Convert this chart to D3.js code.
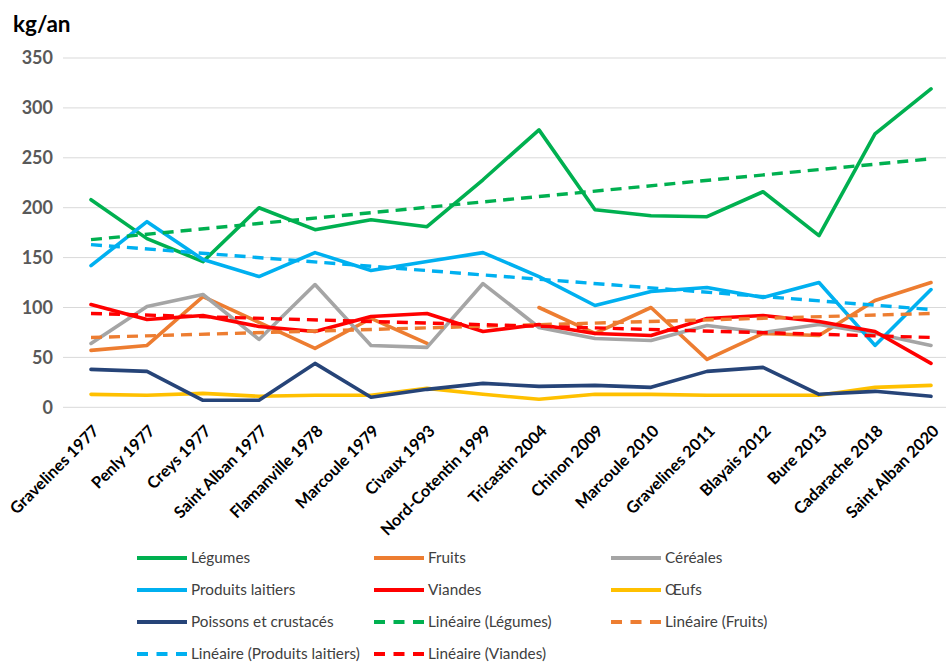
<!DOCTYPE html>
<html><head><meta charset="utf-8">
<script src="https://cdn.jsdelivr.net/npm/d3@7"></script>
<style>
html,body{margin:0;padding:0;background:#fff;}
svg{display:block;font-family:Lato,"Open Sans",sans-serif;}
</style></head>
<body>
<svg id="chart" width="946" height="662"></svg>
<script>
const categories = ["Gravelines 1977","Penly 1977","Creys 1977","Saint Alban 1977","Flamanville 1978","Marcoule 1979","Civaux 1993","Nord-Cotentin 1999","Tricastin 2004","Chinon 2009","Marcoule 2010","Gravelines 2011","Blayais 2012","Bure 2013","Cadarache 2018","Saint Alban 2020"];
const legumes   = [208,169,146,200,178,188,181,228,278,198,192,191,216,172,274,319];
const fruits    = [57,62,111,85,59,89,64,null,100,74,100,48,74,72,107,125];
const cereales  = [64,101,113,68,123,62,60,124,80,69,67,82,75,83,74,62];
const laitiers  = [142,186,148,131,155,137,146,155,131,102,116,120,110,125,62,118];
const viandes   = [103,88,92,81,76,91,94,76,83,74,72,89,92,86,76,44];
const oeufs     = [13,12,14,11,12,12,19,13,8,13,13,12,12,12,20,22];
const poissons  = [38,36,7,7,44,10,18,24,21,22,20,36,40,13,16,11];
// trend lines (linear), values at first and last category
const trendLegumes  = [168,249];
const trendFruits   = [70,94];
const trendLaitiers = [163,98];
const trendViandes  = [94,70];
const yTicks = [0,50,100,150,200,250,300,350];

const svg = d3.select("#chart");
const x = d3.scalePoint().domain(categories).range([63,959]).padding(0.5);
const y = d3.scaleLinear().domain([0,350]).range([407.3,58]);

// gridlines
svg.append("g").selectAll("line").data(yTicks).join("line")
  .attr("x1",63).attr("x2",946)
  .attr("y1",d=>y(d)).attr("y2",d=>y(d))
  .attr("stroke","#d9d9d9").attr("stroke-width",1);

// y labels
const yAxis = d3.axisLeft(y).tickValues(yTicks).tickSize(0).tickPadding(0);
const ya = svg.append("g").attr("transform","translate(53,0)").call(yAxis);
ya.select(".domain").remove();
ya.selectAll("text").attr("font-family","Lato").attr("font-weight","bold")
  .attr("font-size",18).attr("fill","#595959");

// title
svg.append("text").attr("x",13).attr("y",32).text("kg/an")
  .attr("font-weight","bold").attr("font-size",22.5).attr("fill","#000");

// x labels
const xAxis = d3.axisBottom(x).tickSize(0).tickPadding(0);
const xa = svg.append("g").call(xAxis);
xa.select(".domain").remove();
xa.selectAll(".tick").attr("transform",d=>`translate(${x(d)+9},432)`);
xa.selectAll("text").attr("font-family","Lato").attr("font-weight","bold")
  .attr("font-size",16.3).attr("fill","#000")
  .attr("text-anchor","end").attr("dy",0).attr("y",0)
  .attr("transform","rotate(-45)");

const series = [
  {name:"Légumes", data:legumes, color:"#00b050"},
  {name:"Fruits", data:fruits, color:"#ed7d31"},
  {name:"Céréales", data:cereales, color:"#a5a5a5"},
  {name:"Produits laitiers", data:laitiers, color:"#00b0f0"},
  {name:"Viandes", data:viandes, color:"#ff0000"},
  {name:"Œufs", data:oeufs, color:"#ffc000"},
  {name:"Poissons et crustacés", data:poissons, color:"#264478"}
];
const trends = [
  {name:"Linéaire (Légumes)", data:trendLegumes, color:"#00b050"},
  {name:"Linéaire (Fruits)", data:trendFruits, color:"#ed7d31"},
  {name:"Linéaire (Produits laitiers)", data:trendLaitiers, color:"#00b0f0"},
  {name:"Linéaire (Viandes)", data:trendViandes, color:"#ff0000"}
];

const line = d3.line().defined(d=>d.v!=null).x(d=>x(d.c)).y(d=>y(d.v));
const dash = "11,7";

svg.append("g").selectAll("path").data(series).join("path")
  .attr("d",s=>line(s.data.map((v,i)=>({c:categories[i],v}))))
  .attr("fill","none").attr("stroke",s=>s.color).attr("stroke-width",3.6)
  .attr("stroke-linejoin","round").attr("stroke-linecap","round");

const first = categories[0], last = categories[categories.length-1];
svg.append("g").selectAll("path").data(trends).join("path")
  .attr("d",t=>line([{c:first,v:t.data[0]},{c:last,v:t.data[1]}]))
  .attr("fill","none").attr("stroke",t=>t.color).attr("stroke-width",3.4)
  .attr("stroke-dasharray",dash);

// legend
const legendItems = series.map(s=>({...s,dashed:false})).concat(trends.map(t=>({...t,dashed:true})));
const colX = [137,374,611];
const rowY = [558,590,622,654];
const lg = svg.append("g").selectAll("g").data(legendItems).join("g")
  .attr("transform",(d,i)=>`translate(${colX[i%3]},${rowY[Math.floor(i/3)]})`);
lg.append("line").attr("x1",0).attr("x2",50).attr("y1",0).attr("y2",0)
  .attr("stroke",d=>d.color).attr("stroke-width",4)
  .attr("stroke-dasharray",d=>d.dashed?"11,8.5":null)
  .attr("stroke-linecap","butt");
lg.append("text").attr("x",54).attr("y",0).attr("dy","0.35em")
  .text(d=>d.name).attr("font-size",15.3).attr("fill","#404040");
</script>
</body></html>
